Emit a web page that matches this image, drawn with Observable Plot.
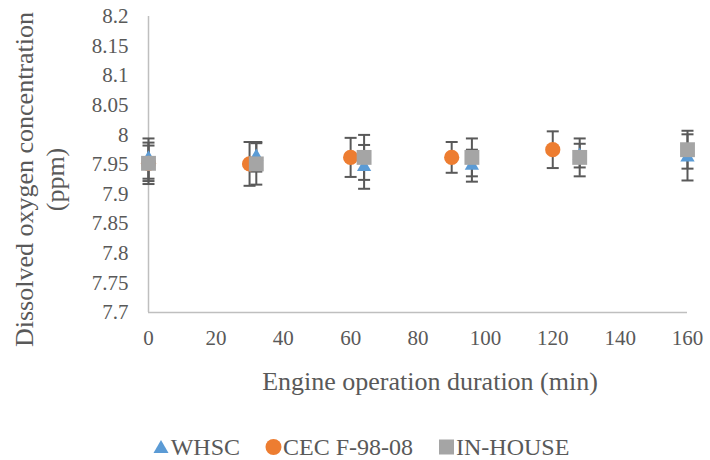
<!DOCTYPE html>
<html>
<head>
<meta charset="utf-8">
<script src="https://cdn.jsdelivr.net/npm/d3@7"></script>
<script src="https://cdn.jsdelivr.net/npm/@observablehq/plot@0.6"></script>
<style>
  html, body { margin: 0; padding: 0; background: #fff; }
  #chart { width: 710px; }
  .legend { display: flex; justify-content: center; gap: 25px; font-size: 24px; line-height: 28px; color: #595959; margin-top: 17px; padding-left: 12px; }
  .legend span.item { display: inline-flex; align-items: center; }
  .legend svg { margin-right: 1px; }
</style>
</head>
<body>
<div id="chart"></div>
<script>
// ---- data ----
const seriesNames = ["WHSC", "CEC F-98-08", "IN-HOUSE"];
const whscTime = [0, 32, 64, 96, 128, 160];
const whscDO   = [7.960, 7.963, 7.946, 7.948, 7.965, 7.962];
const whscErr  = [0.034, 0.025, 0.037, 0.027, 0.020, 0.039];
const cecTime  = [0, 30, 60, 90, 120];
const cecDO    = [7.952, 7.951, 7.962, 7.962, 7.975];
const cecErr   = [0.030, 0.037, 0.033, 0.026, 0.031];
const inTime   = [0, 32, 64, 96, 128, 160];
const inDO     = [7.952, 7.951, 7.962, 7.962, 7.962, 7.975];
const inErr    = [0.035, 0.035, 0.038, 0.032, 0.032, 0.032];
const xTicks = [0, 20, 40, 60, 80, 100, 120, 140, 160];
const yTicks = [7.7, 7.75, 7.8, 7.85, 7.9, 7.95, 8, 8.05, 8.1, 8.15, 8.2];
const colors = ["#5B9BD5", "#ED7D31", "#A5A5A5"];

const toRows = (t, v, e, s) => t.map((x, i) => ({x, y: v[i], e: e[i], s}));
const whsc = toRows(whscTime, whscDO, whscErr, seriesNames[0]);
const cec = toRows(cecTime, cecDO, cecErr, seriesNames[1]);
const inh = toRows(inTime, inDO, inErr, seriesNames[2]);
const all = [...whsc, ...cec, ...inh];

const cap = { draw(ctx) { ctx.moveTo(-6, 0); ctx.lineTo(6, 0); } };
const font = '"Liberation Serif", "Times New Roman", serif';
const grey = "#595959";

const chart = Plot.plot({
  width: 710,
  height: 416,
  marginLeft: 148,
  marginRight: 23,
  marginTop: 16,
  marginBottom: 104,
  style: { fontFamily: font, fontSize: "21px", color: grey, background: "#fff", overflow: "visible" },
  x: { domain: [0, 160], ticks: xTicks, tickSize: 0, tickPadding: 18, tickFormat: d => String(d), label: null },
  y: { domain: [7.7, 8.2], ticks: yTicks, tickSize: 0, tickPadding: 20, tickFormat: d => String(d), label: null },
  marks: [
    Plot.ruleX([0], { stroke: "#BFBFBF", strokeWidth: 1.5 }),
    Plot.ruleY([7.7], { stroke: "#BFBFBF", strokeWidth: 1.5 }),
    Plot.ruleX(all, { x: "x", y1: d => d.y - d.e, y2: d => d.y + d.e, stroke: grey, strokeWidth: 2 }),
    Plot.dot(all, { x: "x", y: d => d.y - d.e, symbol: cap, stroke: grey, strokeWidth: 2, r: 1 }),
    Plot.dot(all, { x: "x", y: d => d.y + d.e, symbol: cap, stroke: grey, strokeWidth: 2, r: 1 }),
    Plot.dot(whsc, { x: "x", y: "y", symbol: "triangle", r: 5.3, fill: colors[0], stroke: "none" }),
    Plot.dot(cec, { x: "x", y: "y", symbol: "circle", r: 7.6, fill: colors[1], stroke: "none" }),
    Plot.dot(inh, { x: "x", y: "y", symbol: "square", r: 8.4, fill: colors[2], stroke: "none" }),
    Plot.text(["Engine operation duration (min)"], { frameAnchor: "bottom", dx: 12, dy: 77, fontSize: 26, fill: grey, fontFamily: font }),
    Plot.text(["Dissolved oxygen concentration\n(ppm)"], { frameAnchor: "left", textAnchor: "middle", rotate: -90, dx: -110, dy: 15, fontSize: 26, fill: grey, lineHeight: 1.2, fontFamily: font })
  ]
});
document.getElementById("chart").appendChild(chart);

// legend
const leg = document.createElement("div");
leg.className = "legend";
leg.style.fontFamily = font;
const shapes = [
  '<polygon points="0.5,15 8,2 15.5,15" fill="' + colors[0] + '"/>',
  '<circle cx="8.5" cy="9" r="8" fill="' + colors[1] + '"/>',
  '<rect x="1" y="1.5" width="15" height="15" fill="' + colors[2] + '"/>'
];
seriesNames.forEach((n, i) => {
  const it = document.createElement("span");
  it.className = "item";
  it.innerHTML = '<svg width="17" height="18">' + shapes[i] + '</svg>' + n;
  leg.appendChild(it);
});
document.getElementById("chart").appendChild(leg);
</script>
</body>
</html>
